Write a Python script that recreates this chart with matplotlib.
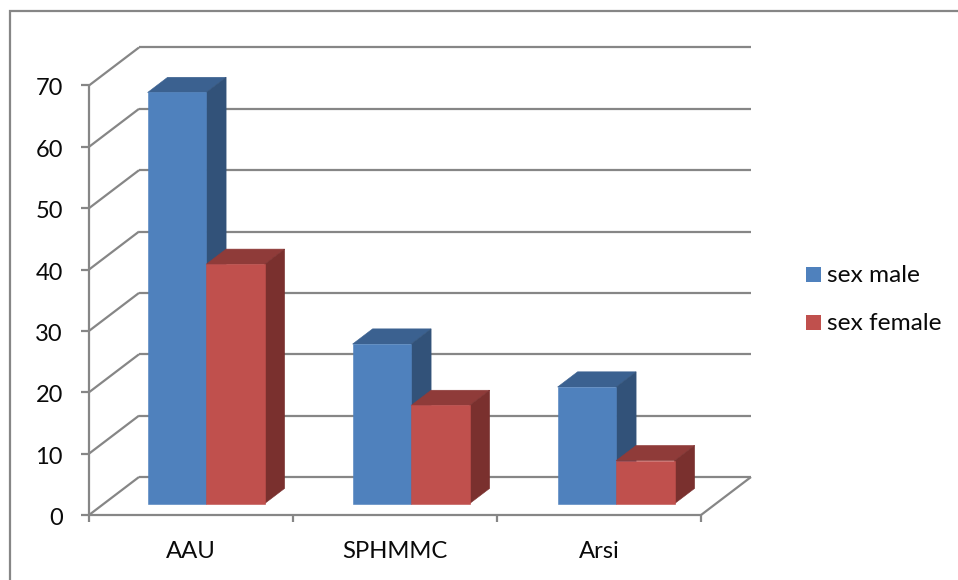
import matplotlib
matplotlib.use("Agg")
import matplotlib.pyplot as plt
from matplotlib.patches import Polygon, Rectangle

plt.rcParams["font.family"] = ["Lato", "DejaVu Sans"]

categories = ["AAU", "SPHMMC", "Arsi"]
sex_male = [67, 26, 19]
sex_female = [39, 16, 7]
value_ticks = [0, 10, 20, 30, 40, 50, 60, 70]

GRID = "#868686"
TEXT = "#0A0A0A"
MALE = ("#4F81BD", "#3B6190", "#325279")
FEMALE = ("#C0504D", "#8F3B39", "#7A302E")

# oblique projection of the chart box, in figure pixels
X0, Y0 = 89.0, 515.0
CAT_W = 204.0
UNIT = 6.136
DEPTH_X, DEPTH_Y = 50.0, -38.0
BAR_W = 58.5
BAR_STEP = 205.0 / 204.0
GAP = 43.6
BAR_NEAR = 0.30
BAR_FAR = 0.70


def proj(cat, value, depth=0.0):
    return (X0 + cat * CAT_W + depth * DEPTH_X, Y0 - value * UNIT + depth * DEPTH_Y)


def line(ax, a, b, lw=1.6):
    ax.plot([a[0], b[0]], [a[1], b[1]], color=GRID, lw=lw, solid_capstyle="butt", zorder=2)


def face(ax, corners, color):
    # thin same-colour edge closes the antialiasing seam between faces
    ax.add_patch(Polygon(corners, fc=color, ec=color, lw=0.4, zorder=3))


def draw_bar(ax, left, value, colors):
    # left is in category units, corners go front then back
    right = left + BAR_W / CAT_W
    fbl = proj(left, 0, BAR_NEAR)
    fbr = proj(right, 0, BAR_NEAR)
    ftl = proj(left, value, BAR_NEAR)
    ftr = proj(right, value, BAR_NEAR)
    btl = proj(left, value, BAR_FAR)
    btr = proj(right, value, BAR_FAR)
    bbr = proj(right, 0, BAR_FAR)
    face(ax, [ftl, ftr, btr, btl], colors[1])
    face(ax, [ftr, fbr, bbr, btr], colors[2])
    face(ax, [fbl, fbr, ftr, ftl], colors[0])


fig = plt.figure(figsize=(9.58, 5.8), dpi=100)
ax = fig.add_axes([0, 0, 1, 1])
ax.set_xlim(0, 958)
ax.set_ylim(580, 0)
ax.axis("off")

# chart frame, open on the right and at the bottom
ax.plot([10, 10, 958], [580, 11, 11], color=GRID, lw=1.6, solid_joinstyle="miter", zorder=1)

n = len(categories)
for v in value_ticks:
    line(ax, proj(0, v), proj(0, v, 1))
    line(ax, proj(0, v, 1), proj(n, v, 1))
    tx, ty = proj(0, v)
    line(ax, (tx - 8, ty), (tx, ty))
    ax.text(tx - 26, ty + 1.5, str(v), ha="right", va="center_baseline", fontsize=17, color=TEXT)

line(ax, proj(0, 0), proj(0, value_ticks[-1]))
line(ax, proj(0, 0), proj(n, 0))
line(ax, proj(n, 0), proj(n, 0, 1))

for i in range(n + 1):
    tx, ty = proj(i, 0)
    line(ax, (tx, ty), (tx, ty + 7))

for i, name in enumerate(categories):
    tx, ty = proj(i + 0.5, 0)
    ax.text(tx, 551, name, ha="center", va="center", fontsize=17.2, color=TEXT)
    base = i * BAR_STEP + GAP / CAT_W
    draw_bar(ax, base, sex_male[i], MALE)
    draw_bar(ax, base + BAR_W / CAT_W, sex_female[i], FEMALE)

# legend
for y, label, colors in [(274, "sex male", MALE), (322, "sex female", FEMALE)]:
    ax.add_patch(Rectangle((806, y - 7.5), 15, 15, fc=colors[0], ec="none"))
    ax.text(827, y + 1.5, label, ha="left", va="center", fontsize=17.6, color=TEXT)

fig.savefig("out.png", dpi=100)
